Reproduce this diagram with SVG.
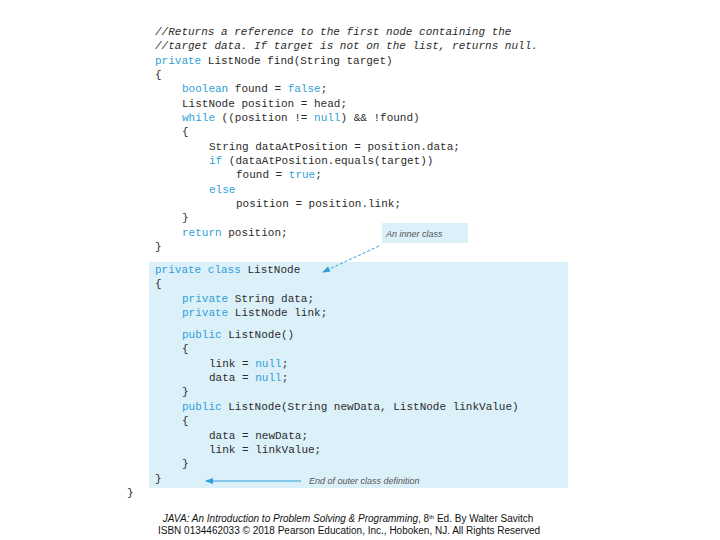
<svg xmlns="http://www.w3.org/2000/svg" width="720" height="540" viewBox="0 0 720 540">
<style>
.c{font-family:"Liberation Mono",monospace;font-size:11px;fill:#2b2b2b}
.k{fill:#2f9fd8}
.i{font-style:italic}
.n{font-family:"Liberation Sans",sans-serif;font-size:9px;font-style:italic;fill:#555}
.f{font-family:"Liberation Sans",sans-serif;font-size:10px;fill:#111}
</style>
<defs>
<marker id="a" markerWidth="8" markerHeight="6" refX="7" refY="3" orient="auto"><path d="M0,0L8,3L0,6z" fill="#2f9fd8"/></marker>
</defs>
<rect x="149" y="262" width="419" height="226" fill="#dcf0fa"/>
<g id="callout1"><rect x="382" y="223" width="86" height="20" fill="#dcf0fa"/><text class="n" x="386" y="237">An inner class</text></g>
<g id="callout2"><text class="n" x="309" y="484">End of outer class definition</text></g>
<g id="connectors" stroke="#2f9fd8" fill="none">
<line x1="379" y1="246" x2="323" y2="272" stroke-dasharray="3,2" marker-end="url(#a)"/>
<line x1="301" y1="481" x2="206" y2="481" marker-end="url(#a)"/>
</g>
<g id="code">
<text class="c i" x="155" y="35">//Returns a reference to the first node containing the</text>
<text class="c i" x="155" y="49">//target data. If target is not on the list, returns null.</text>
<text class="c" x="155" y="64"><tspan class="k">private</tspan> ListNode find(String target)</text>
<text class="c" x="155" y="78">{</text>
<text class="c" x="182" y="92"><tspan class="k">boolean</tspan> found = <tspan class="k">false</tspan>;</text>
<text class="c" x="182" y="107">ListNode position = head;</text>
<text class="c" x="182" y="121"><tspan class="k">while</tspan> ((position != <tspan class="k">null</tspan>) &amp;&amp; !found)</text>
<text class="c" x="182" y="135">{</text>
<text class="c" x="209" y="150">String dataAtPosition = position.data;</text>
<text class="c" x="209" y="164"><tspan class="k">if</tspan> (dataAtPosition.equals(target))</text>
<text class="c" x="236" y="178">found = <tspan class="k">true</tspan>;</text>
<text class="c k" x="209" y="193">else</text>
<text class="c" x="236" y="207">position = position.link;</text>
<text class="c" x="182" y="221">}</text>
<text class="c" x="182" y="236"><tspan class="k">return</tspan> position;</text>
<text class="c" x="155" y="250">}</text>
<text class="c" x="155" y="273"><tspan class="k">private class</tspan> ListNode</text>
<text class="c" x="155" y="287">{</text>
<text class="c" x="182" y="302"><tspan class="k">private</tspan> String data;</text>
<text class="c" x="182" y="316"><tspan class="k">private</tspan> ListNode link;</text>
<text class="c" x="182" y="338"><tspan class="k">public</tspan> ListNode()</text>
<text class="c" x="182" y="352">{</text>
<text class="c" x="209" y="367">link = <tspan class="k">null</tspan>;</text>
<text class="c" x="209" y="381">data = <tspan class="k">null</tspan>;</text>
<text class="c" x="182" y="395">}</text>
<text class="c" x="182" y="410"><tspan class="k">public</tspan> ListNode(String newData, ListNode linkValue)</text>
<text class="c" x="182" y="424">{</text>
<text class="c" x="209" y="439">data = newData;</text>
<text class="c" x="209" y="453">link = linkValue;</text>
<text class="c" x="182" y="467">}</text>
<text class="c" x="155" y="482">}</text>
<text class="c" x="127" y="496">}</text>
</g>
<text class="f" x="348" y="522" text-anchor="middle"><tspan font-style="italic">JAVA: An Introduction to Problem  Solving &amp; Programming</tspan>, 8<tspan font-size="6" dy="-3">th</tspan><tspan dy="3"> Ed. By Walter Savitch</tspan></text>
<text class="f" x="349" y="534" text-anchor="middle">ISBN 0134462033 © 2018 Pearson Education, Inc., Hoboken, NJ. All Rights Reserved</text>
</svg>
